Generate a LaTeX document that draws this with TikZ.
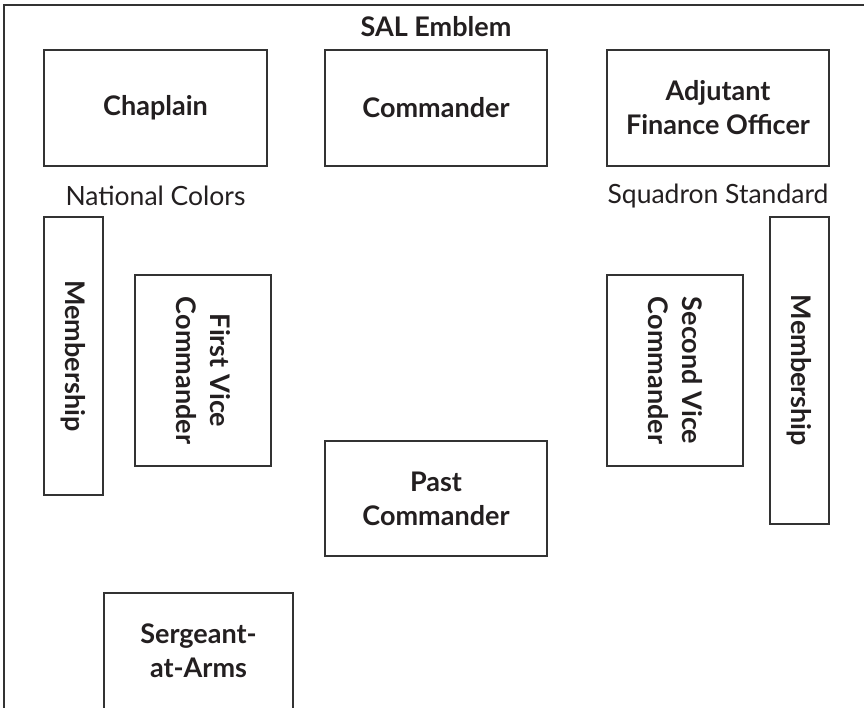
\documentclass[tikz,border=0pt]{standalone}
\usepackage{fontspec}
\setmainfont{Lato}
\definecolor{InkGray}{HTML}{231F20}
\definecolor{LineGray}{HTML}{333333}
\usetikzlibrary{positioning}

\tikzset{
  office/.style={draw=LineGray, line width=1.4pt, align=center, text=InkGray,
    font=\fontsize{27}{34}\selectfont\bfseries, inner sep=0pt},
  flag/.style={text=InkGray, font=\fontsize{26.5}{30}\selectfont, inner sep=0pt}
}

\begin{document}
\begin{tikzpicture}[x=1pt, y=-1pt]
        \useasboundingbox (0,0) rectangle (864,708);
        \draw[LineGray, line width=1.4pt] (4,708) -- (4,5) -- (864,5);

        \node[flag, font=\fontsize{27}{30}\selectfont\bfseries] (emblem) at (436,27) {SAL Emblem};

        \node[office, minimum width=223pt, minimum height=116pt] (chaplain) at (155.5,108) {Chaplain};
        \node[office, minimum width=222pt, minimum height=116pt] (commander) at (436,108) {Commander};
        \node[office, minimum width=222pt, minimum height=116pt] (adjutant) at (718,108) {Adjutant\\Finance Officer};

        \node[flag] (colors) at (155.5,196) {National Colors};
        \node[flag] (standard) at (718,196) {Squadron Standard};

        \node[office, rotate=-90, minimum width=278pt, minimum height=59pt] (memberleft) at (73.5,356) {Membership};
        \node[office, rotate=-90, minimum width=191pt, minimum height=136pt] (firstvice) at (203,370.5) {First Vice\\Commander};
        \node[office, rotate=-90, minimum width=191pt, minimum height=136pt] (secondvice) at (675,370.5) {Second Vice\\Commander};
        \node[office, rotate=-90, minimum width=307pt, minimum height=59pt] (memberright) at (799.5,370.5) {Membership};

        \node[office, minimum width=222pt, minimum height=115pt] (past) at (436,498.5) {Past\\Commander};
        \node[office, minimum width=189pt, minimum height=116pt] (sergeant) at (198.5,651) {Sergeant-\\at-Arms};
    \end{tikzpicture}
\end{document}
